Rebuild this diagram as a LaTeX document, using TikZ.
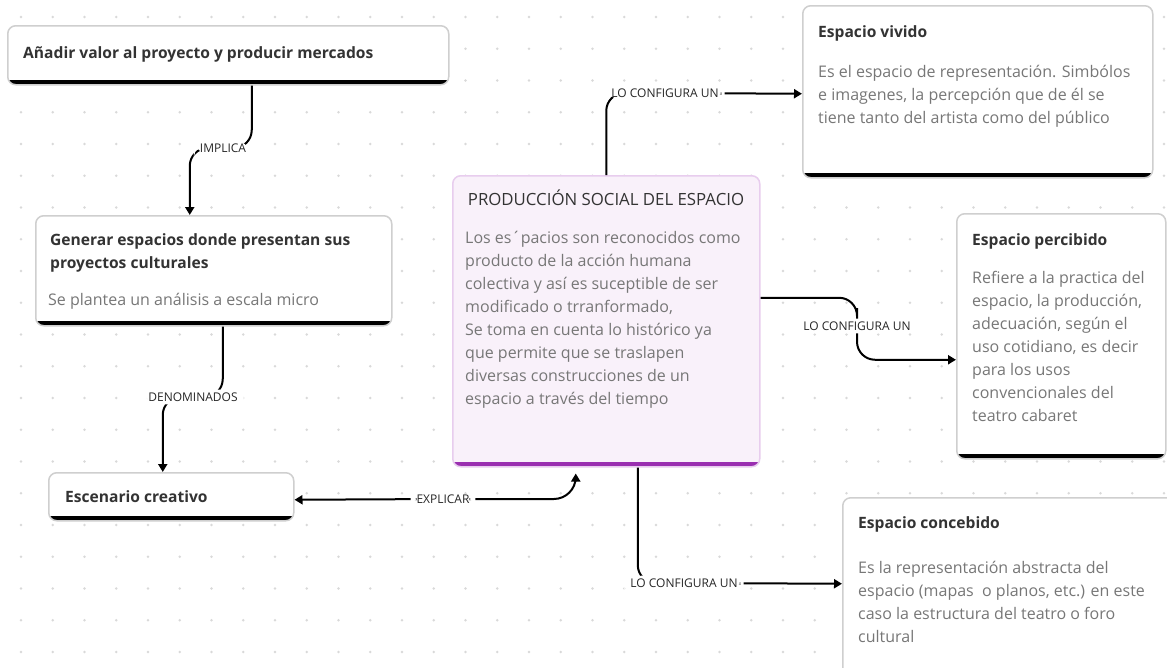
\documentclass[tikz,border=0pt]{standalone}
\usepackage{fontspec}
\setmainfont{Open Sans}
\usepackage{tikz}
\usetikzlibrary{arrows.meta,positioning}

\definecolor{dotgray}{HTML}{D9D9D9}
\definecolor{cardline}{HTML}{CFCFCF}
\definecolor{titlegray}{HTML}{333333}
\definecolor{bodygray}{HTML}{777777}
\definecolor{lilafill}{HTML}{F9F1FA}
\definecolor{lilaline}{HTML}{E8CDEE}
\definecolor{lilabar}{HTML}{9A2FB0}

% lines of a card, first baseline on the node's base
\newcommand{\cardlines}[1]{\parbox[t]{420pt}{#1}}

\tikzset{
  card/.style={draw=cardline, line width=1.5pt, fill=white, rounded corners=8pt,
    anchor=north west, inner sep=0pt,
    path picture={\fill[#1, sharp corners] (path picture bounding box.south west)
      rectangle ([yshift=5pt]path picture bounding box.south east);}},
  card/.default=black,
  ttl/.style={anchor=base west, inner sep=0pt, text=titlegray,
    font=\fontsize{15.6}{23}\selectfont\bfseries},
  txt/.style={anchor=base west, inner sep=0pt, text=bodygray,
    font=\fontsize{16}{23}\selectfont},
  lbl/.style={fill=white, inner xsep=6pt, inner ysep=3pt, text=black!85,
    font=\fontsize{12}{14}\selectfont},
  link/.style={line width=2pt, rounded corners=18pt},
  >={Triangle[length=8pt,width=9pt]},
}

\begin{document}
\begin{tikzpicture}[x=1pt, y=-1pt]
%%%%% Canvas %%%%%
\useasboundingbox (0,0) rectangle (1167,667);
\clip (0,0) rectangle (1167,667);
\fill[white] (0,0) rectangle (1167,667);
\foreach \i in {0,...,36}{
  \foreach \j in {0,...,20}{
    \fill[dotgray] (21+31.75*\i,17+31.75*\j) circle[radius=1.3pt];
  }
}

%%%%% Cards %%%%%
\node[card, minimum width=441, minimum height=59] (valor) at (7,25) {};
\node[ttl] (valor-t) at (23,58) {Añadir valor al proyecto y producir mercados};

\node[card, minimum width=356, minimum height=110] (generar) at (35,215) {};
\node[ttl] (generar-t) at (50,245) {\cardlines{Generar espacios donde presentan sus\\proyectos culturales}};
\node[txt] (generar-b) at (48,305) {Se plantea un análisis a escala micro};

\node[card, minimum width=245, minimum height=48] (escenario) at (48,472) {};
\node[ttl] (escenario-t) at (65,502) {Escenario creativo};

\node[card=lilabar, fill=lilafill, draw=lilaline, minimum width=307, minimum height=291] (social) at (452,175) {};
\node[anchor=base, inner sep=0pt, text=titlegray, font=\fontsize{16.8}{23}\selectfont] (social-t) at (606,205) {PRODUCCIÓN SOCIAL DEL ESPACIO};
\node[txt] (social-b) at (465,243) {\cardlines{Los es´pacios son reconocidos como\\producto de la acción humana\\colectiva y así es suceptible de ser\\modificado o trranformado,\\Se toma en cuenta lo histórico ya\\que permite que se traslapen\\diversas construcciones de un\\espacio a través del tiempo}};

\node[card, minimum width=350, minimum height=172] (vivido) at (802,5) {};
\node[ttl] (vivido-t) at (818,37) {Espacio vivido};
\node[txt] (vivido-b) at (818,77) {\cardlines{Es el espacio de representación. Simbólos\\e imagenes, la percepción que de él se\\tiene tanto del artista como del público}};

\node[card, minimum width=209, minimum height=245] (percibido) at (956,213) {};
\node[ttl] (percibido-t) at (972,245) {Espacio percibido};
\node[txt] (percibido-b) at (972,283) {\cardlines{Refiere a la practica del\\espacio, la producción,\\adecuación, según el\\uso cotidiano, es decir\\para los usos\\convencionales del\\teatro cabaret}};

\node[card, minimum width=343, minimum height=203] (concebido) at (842,497) {};
\node[ttl] (concebido-t) at (858,528) {Espacio concebido};
\node[txt] (concebido-b) at (858,573) {\cardlines{Es la representación abstracta del\\espacio (mapas~ o planos, etc.) en este\\caso la estructura del teatro o foro\\cultural}};

%%%%% Connectors %%%%%
\draw[link,->] ([xshift=23.5pt]valor.south) |- (223,148) node[lbl] (implica) {IMPLICA} -| ([xshift=-24pt]generar.north);
\draw[link,->] ([xshift=9pt]generar.south) |- (193,397) node[lbl] (denominados) {DENOMINADOS} -| ([xshift=-8.5pt]escenario.north);
\draw[link,<->,rounded corners=22pt] ([yshift=-3pt]escenario.east) -- (443,499) node[lbl] (explicar) {EXPLICAR} -| ([xshift=-30.5pt,yshift=-6pt]social.south);
\draw[link,->] (social.north) |- (665,93) node[lbl] (config1) {LO CONFIGURA UN} -- ([yshift=-2pt]vivido.west);
\draw[link,->] ([yshift=23.5pt]social.east) -| (857,326) node[lbl] (config2) {LO CONFIGURA UN} |- ([yshift=-23.5pt]percibido.west);
\draw[link,->] ([xshift=31.5pt]social.south) |- (684,583) node[lbl] (config3) {LO CONFIGURA UN} -- ([yshift=15.5pt]concebido.west);
\end{tikzpicture}
\end{document}
